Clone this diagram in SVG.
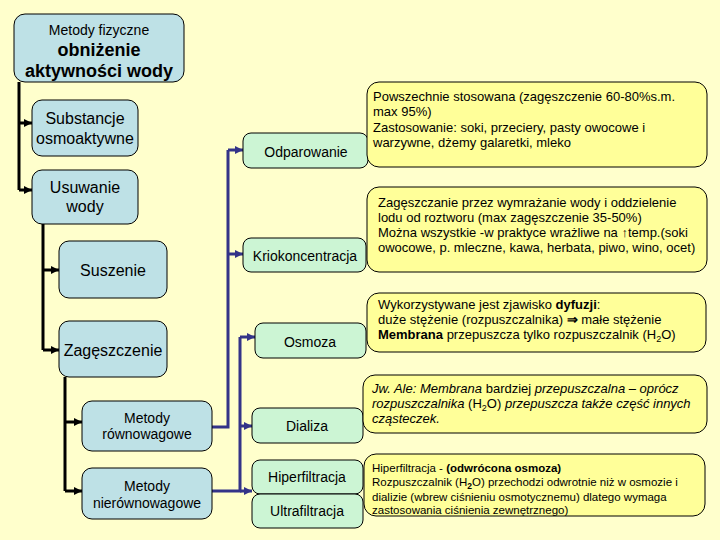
<svg xmlns="http://www.w3.org/2000/svg" width="720" height="540" viewBox="0 0 720 540">
<defs>
<style>
text{font-family:"Liberation Sans",Arial,sans-serif;fill:#000}
.blue{fill:#BEE1E6;stroke:#000;stroke-width:1}
.green{fill:#CCF5D4;stroke:#000;stroke-width:1}
.note{fill:#FFFF99;stroke:#000;stroke-width:1}
.blk{fill:none;stroke:#000;stroke-width:3}
.nav{fill:none;stroke:#333388;stroke-width:3}
.c{text-anchor:middle}
.n{font-size:13px}
.n5{font-size:11.5px}
</style>
<marker id="ab" markerUnits="userSpaceOnUse" markerWidth="8" markerHeight="8" refX="8" refY="4" orient="auto"><path d="M0,0 L8,4 L0,8 Z" fill="#000"/></marker>
<marker id="an" markerUnits="userSpaceOnUse" markerWidth="8" markerHeight="8" refX="8" refY="4" orient="auto"><path d="M0,0 L8,4 L0,8 Z" fill="#333388"/></marker>
</defs>
<rect width="720" height="540" fill="#FFFFCC"/>

<g id="connectors">
<path class="blk" d="M19,82 V190"/>
<path class="blk" d="M19,123 H32" marker-end="url(#ab)"/>
<path class="blk" d="M19,190 H32" marker-end="url(#ab)"/>
<path class="blk" d="M43,224 V350"/>
<path class="blk" d="M43,270 H59" marker-end="url(#ab)"/>
<path class="blk" d="M43,350 H59" marker-end="url(#ab)"/>
<path class="blk" d="M65,377 V491"/>
<path class="blk" d="M65,422 H82" marker-end="url(#ab)"/>
<path class="blk" d="M65,491 H82" marker-end="url(#ab)"/>
<path class="nav" d="M212,427 H228 V150"/>
<path class="nav" d="M228,150 H243" marker-end="url(#an)"/>
<path class="nav" d="M228,254 H243" marker-end="url(#an)"/>
<path class="nav" d="M212,491 H240 V337"/>
<path class="nav" d="M240,337 H255" marker-end="url(#an)"/>
<path class="nav" d="M240,426 H252" marker-end="url(#an)"/>
<path class="nav" d="M240,491 H252" marker-end="url(#an)"/>
</g>

<g id="root">
<rect class="blue" x="14" y="14" width="170" height="68" rx="11"/>
<text class="c" x="99" y="35" font-size="14">Metody fizyczne</text>
<text class="c" x="99" y="56" font-size="18" font-weight="bold">obniżenie</text>
<text class="c" x="99" y="77" font-size="18" font-weight="bold">aktywności wody</text>
</g>
<g id="substancje">
<rect class="blue" x="32" y="100" width="106" height="56" rx="10"/>
<text class="c" x="85" y="124" font-size="16">Substancje</text>
<text class="c" x="85" y="144" font-size="16">osmoaktywne</text>
</g>
<g id="usuwanie">
<rect class="blue" x="32" y="170" width="106" height="54" rx="10"/>
<text class="c" x="85" y="193" font-size="16">Usuwanie</text>
<text class="c" x="85" y="212" font-size="16">wody</text>
</g>
<g id="suszenie">
<rect class="blue" x="59" y="241" width="108" height="57" rx="10"/>
<text class="c" x="113" y="276" font-size="16">Suszenie</text>
</g>
<g id="zageszczenie">
<rect class="blue" x="59" y="321" width="108" height="56" rx="10"/>
<text class="c" x="113" y="356" font-size="16">Zagęszczenie</text>
</g>
<g id="rownowagowe">
<rect class="blue" x="82" y="401" width="130" height="50" rx="10"/>
<text class="c" x="147" y="423" font-size="14">Metody</text>
<text class="c" x="147" y="439" font-size="14">równowagowe</text>
</g>
<g id="nierownowagowe">
<rect class="blue" x="82" y="468" width="130" height="51" rx="10"/>
<text class="c" x="147" y="491" font-size="14">Metody</text>
<text class="c" x="147" y="508" font-size="14">nierównowagowe</text>
</g>

<g id="odparowanie">
<rect class="green" x="243" y="133" width="125" height="35" rx="8"/>
<text class="c" x="306" y="157" font-size="14">Odparowanie</text>
</g>
<g id="kriokoncentracja">
<rect class="green" x="243" y="238" width="123" height="34" rx="8"/>
<text class="c" x="305" y="261" font-size="14">Kriokoncentracja</text>
</g>
<g id="osmoza">
<rect class="green" x="255" y="323" width="111" height="35" rx="8"/>
<text class="c" x="310" y="347" font-size="14">Osmoza</text>
</g>
<g id="dializa">
<rect class="green" x="252" y="408" width="111" height="35" rx="8"/>
<text class="c" x="307" y="431" font-size="14">Dializa</text>
</g>
<g id="hiperfiltracja">
<rect class="green" x="252" y="460" width="111" height="34" rx="8"/>
<text class="c" x="307" y="482" font-size="14">Hiperfiltracja</text>
</g>
<g id="ultrafiltracja">
<rect class="green" x="252" y="494" width="111" height="34" rx="8"/>
<text class="c" x="307" y="516" font-size="14">Ultrafiltracja</text>
</g>

<g id="note1">
<rect class="note" x="367" y="82" width="340" height="85" rx="12"/>
<text class="n" x="373" y="101">Powszechnie stosowana (zagęszczenie 60-80%s.m.</text>
<text class="n" x="373" y="116">max 95%)</text>
<text class="n" x="373" y="132">Zastosowanie: soki, przeciery, pasty owocowe i</text>
<text class="n" x="373" y="147">warzywne, dżemy galaretki, mleko</text>
</g>
<g id="note2">
<rect class="note" x="367" y="187" width="340" height="85" rx="12"/>
<text class="n" x="378" y="207">Zagęszczanie przez wymrażanie wody i oddzielenie</text>
<text class="n" x="378" y="222">lodu od roztworu (max zagęszczenie 35-50%)</text>
<text class="n" x="378" y="237">Można wszystkie -w praktyce wrażliwe na ↑temp.(soki</text>
<text class="n" x="378" y="252">owocowe, p. mleczne, kawa, herbata, piwo, wino, ocet)</text>
</g>
<g id="note3">
<rect class="note" x="367" y="293" width="339" height="59" rx="12"/>
<text class="n" x="378" y="309">Wykorzystywane jest zjawisko <tspan font-weight="bold">dyfuzji</tspan>:</text>
<text class="n" x="378" y="324">duże stężenie (rozpuszczalnika) <tspan font-weight="bold">⇒</tspan> małe stężenie</text>
<text class="n" x="378" y="339"><tspan font-weight="bold">Membrana</tspan> przepuszcza tylko rozpuszczalnik (H<tspan font-size="9" dy="3">2</tspan><tspan dy="-3">O)</tspan></text>
</g>
<g id="note4">
<rect class="note" x="363" y="375" width="344" height="58" rx="12"/>
<text class="n" x="372" y="393"><tspan font-style="italic">Jw. Ale: Membrana</tspan> bardziej <tspan font-style="italic">przepuszczalna – oprócz</tspan></text>
<text class="n" x="372" y="408" font-style="italic">rozpuszczalnika <tspan font-style="normal">(H<tspan font-size="9" dy="3">2</tspan><tspan dy="-3">O)</tspan></tspan> przepuszcza także część innych</text>
<text class="n" x="372" y="423" font-style="italic">cząsteczek.</text>
</g>
<g id="note5">
<rect class="note" x="364" y="454" width="341" height="62" rx="12"/>
<text class="n5" x="372" y="472">Hiperfiltracja - <tspan font-weight="bold">(odwrócona osmoza)</tspan></text>
<text class="n5" x="372" y="486">Rozpuszczalnik (H<tspan font-size="8.5" dy="3" font-weight="bold">2</tspan><tspan dy="-3">O) przechodzi odwrotnie niż w osmozie i</tspan></text>
<text class="n5" x="372" y="501">dializie (wbrew ciśnieniu osmotycznemu) dlatego wymaga</text>
<text class="n5" x="372" y="514">zastosowania ciśnienia zewnętrznego)</text>
</g>
</svg>
